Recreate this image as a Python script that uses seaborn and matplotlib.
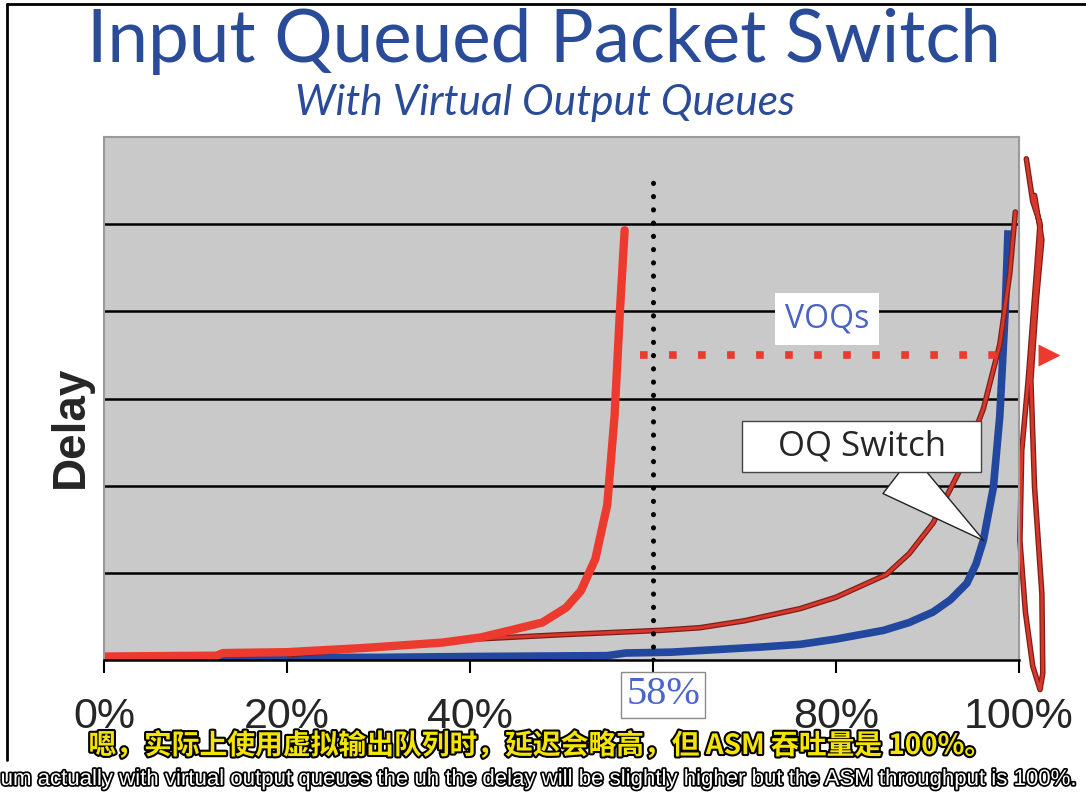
import numpy as np
import pandas as pd
import seaborn as sns
import matplotlib.pyplot as plt
import matplotlib.patheffects as pe


# load (%) vs delay
fifo_load = [0, 12.3, 13, 20, 28.7, 37, 41.2, 44, 47.9, 50.5, 52.1, 53.7, 55.0, 55.8, 56.4, 56.9]
fifo_delay = [0.04, 0.05, 0.08, 0.09, 0.14, 0.2, 0.26, 0.33, 0.43, 0.6, 0.79, 1.16, 1.78, 2.8, 4.03, 4.93]

oq_load = [0, 13, 20, 30, 40, 55, 57, 62, 72, 76.1, 80, 85.2, 88, 90.6, 92.5, 94.3, 95.3, 96.1, 97.2, 97.9, 98.5, 98.8]
oq_delay = [0.02, 0.02, 0.03, 0.03, 0.04, 0.05, 0.08, 0.09, 0.15, 0.18, 0.24, 0.34, 0.43, 0.55, 0.69, 0.88, 1.1, 1.37, 1.98, 2.8, 4.03, 4.93]

voq_load = [20.3, 30, 40.6, 50, 60.8, 65.1, 70, 76.1, 80, 85.5, 88, 90.6, 93.6, 96.1, 97.9, 99.0, 99.6]
voq_delay = [0.06, 0.15, 0.24, 0.29, 0.34, 0.37, 0.45, 0.59, 0.72, 0.98, 1.22, 1.57, 2.19, 2.88, 3.62, 4.44, 5.14]

# hand drawn squiggle on the right edge
scribble_x = [100.8, 101.5, 102.3, 101.9, 101.0, 100.3, 100.1, 100.7, 101.5, 102.3,
              102.6, 102.5, 101.7, 101.3, 101.9, 102.5, 101.7]
scribble_y = [5.75, 5.26, 5.01, 4.44, 3.21, 2.40, 1.37, 0.55, -0.07, -0.34,
              -0.15, 0.76, 1.98, 3.21, 4.13, 4.82, 5.33]

tick_pos = [0, 20, 40, 60, 80, 100]
tick_labels = ['0%', '20%', '40%', '', '80%', '100%']
knee_x = 60
knee_label = '58%'
voq_level = 3.5

RED = '#ec3a2e'
BLUE = '#21479f'
TITLE_BLUE = '#2a4b98'

fifo = pd.DataFrame({'load': fifo_load, 'delay': fifo_delay})
oq = pd.DataFrame({'load': oq_load, 'delay': oq_delay})
voq = pd.DataFrame({'load': voq_load, 'delay': voq_delay})

sns.set_style('white')
plt.rcParams['font.family'] = ['Liberation Sans', 'DejaVu Sans']

fig = plt.figure(figsize=(10.86, 7.92), dpi=100)
ax = fig.add_axes([104 / 1086, 132 / 792, 915 / 1086, 523 / 792])
ax.set_facecolor('#c9c9c9')

ax.set_xlim(0, 100)
ax.set_ylim(0, 6)
ax.set_yticks([1, 2, 3, 4, 5])
ax.set_yticklabels([])
ax.tick_params(axis='y', length=0)
ax.yaxis.grid(True, color='black', lw=1.8)
ax.set_axisbelow(True)

for s in ['left', 'top', 'right']:
    ax.spines[s].set_color('#9a9a9a')
    ax.spines[s].set_linewidth(1.5)
ax.spines['bottom'].set_color('black')
ax.spines['bottom'].set_linewidth(1.8)

ax.set_xticks(tick_pos)
ax.set_xticklabels(tick_labels, fontsize=31)
ax.tick_params(axis='x', direction='out', length=9, width=1.5, color='black', pad=18, bottom=True)

# curves
sns.lineplot(data=oq, x='load', y='delay', ax=ax, color=BLUE, lw=5.5, sort=False,
             solid_capstyle='butt')
sns.lineplot(data=voq, x='load', y='delay', ax=ax, color='#d8372c', lw=2.2, sort=False,
             path_effects=[pe.Stroke(linewidth=4, foreground='#7d1f18'), pe.Normal()])
sns.lineplot(data=fifo, x='load', y='delay', ax=ax, color=RED, lw=6, sort=False,
             solid_capstyle='round')

# dotted knee line
ax.plot([knee_x, knee_x], [0, 5.48], color='black', lw=3.6,
        linestyle=(0, (0.05, 2.6)), dash_capstyle='round')

# red dotted VOQ level with arrow head
ax.plot([58.6, 98.5], [voq_level, voq_level], color=RED, lw=5.5,
        linestyle=(0, (1, 2.8)), dash_capstyle='butt')
ax.plot([103.3], [voq_level], marker='>', color=RED, ms=16, clip_on=False, mec='none')

# scribble
ax.plot(scribble_x, scribble_y, color='#d8372c', lw=2.2, clip_on=False,
        path_effects=[pe.Stroke(linewidth=4, foreground='#7d1f18'), pe.Normal()])

ax.set_xlabel('')
ax.set_ylabel('')
ax.text(-0.036, 0.445, 'Delay', transform=ax.transAxes, rotation=90, fontsize=33,
        fontweight='bold', ha='center', va='center')

# labels in the plot
ax.text(79.0, 3.91, 'VOQs', fontsize=23, color='#4a62c4', family=['Open Sans', 'DejaVu Sans'],
        ha='center', va='center',
        bbox=dict(boxstyle='square,pad=0.3', fc='white', ec='none'))

ax.annotate('   OQ Switch   ', xy=(96.4, 1.35), xytext=(82.8, 2.45), fontsize=25,
            family=['Open Sans', 'DejaVu Sans'], ha='center', va='center',
            bbox=dict(boxstyle='square,pad=0.25', fc='white', ec='#444444', lw=1),
            arrowprops=dict(arrowstyle='wedge,tail_width=1.4,shrink_factor=0.5',
                            fc='white', ec='#222222', lw=1))

ax.text(61.1, -0.40, knee_label, fontsize=29, color='#4a66cc', family=['Liberation Serif'],
        ha='center', va='center', clip_on=False,
        bbox=dict(boxstyle='square,pad=0.12', fc='white', ec='#8a8a8a', lw=1))

# titles
fig.text(0.501, 1 - 62 / 792, 'Input Queued Packet Switch', fontsize=52.5, color=TITLE_BLUE,
         family=['Lato', 'DejaVu Sans'], ha='center', va='baseline')
fig.text(0.502, 1 - 115 / 792, 'With Virtual Output Queues', fontsize=30.5, color=TITLE_BLUE,
         family=['Lato', 'DejaVu Sans'], style='italic', ha='center', va='baseline')

# subtitles
fig.text(0.497, 1 - 754 / 792, '嗯，实际上使用虚拟输出队列时，延迟会略高，但 ASM 吞吐量是 100%。',
         fontsize=20, fontweight='bold', color='#f4e400',
         family=['Noto Sans CJK SC', 'DejaVu Sans'], ha='center', va='baseline',
         path_effects=[pe.withStroke(linewidth=3, foreground='black')])
fig.text(0.497, 1 - 785 / 792,
         'um actually with virtual output queues the uh the delay will be slightly higher but the ASM throughput is 100%.',
         fontsize=16, color='white', family=['Liberation Sans'],
         ha='center', va='baseline',
         path_effects=[pe.withStroke(linewidth=2.5, foreground='black')])

# slide frame
fig.add_artist(plt.Line2D([7 / 1086, 7 / 1086], [0.04, 1 - 4 / 792], color='black', lw=2))
fig.add_artist(plt.Line2D([7 / 1086, 1], [1 - 4 / 792, 1 - 4 / 792], color='black', lw=2))

fig.savefig('out.png', dpi=100)
